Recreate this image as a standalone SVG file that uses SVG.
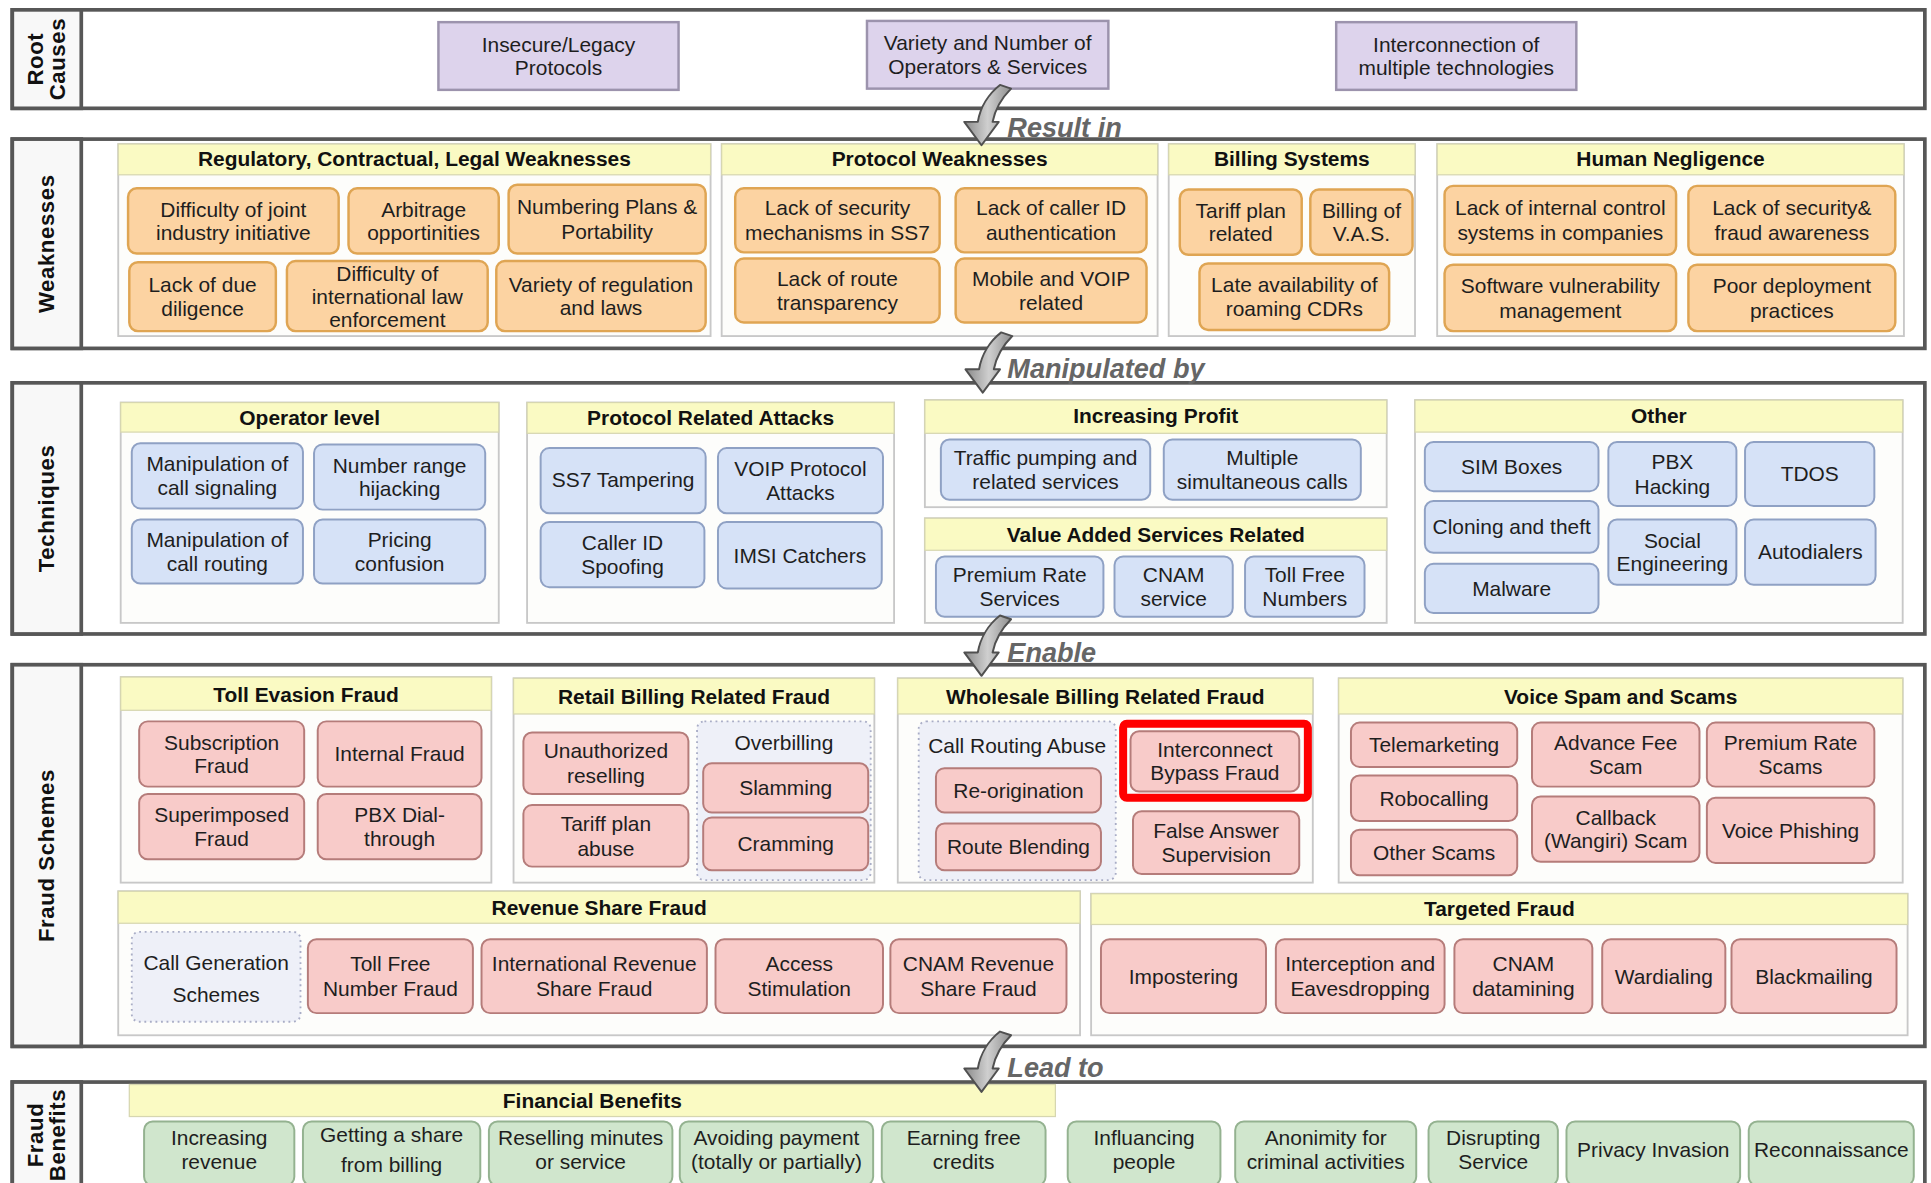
<svg xmlns="http://www.w3.org/2000/svg" width="1931" height="1183" viewBox="0 0 1931 1183">
<defs>
<style>
text{font-family:"Liberation Sans",Arial,sans-serif;fill:#1e1e1e}
.t{font-size:17px;text-anchor:middle}
.h{font-size:17px;font-weight:bold;text-anchor:middle;fill:#111}
.lt{font-size:18px;font-weight:bold;text-anchor:middle;fill:#111;letter-spacing:0.5px}
.al{font-size:22px;font-weight:bold;font-style:italic;fill:#666}
.band{fill:#fff;stroke:#575757;stroke-width:3}
.lab{fill:#f8f8f8;stroke:#575757;stroke-width:3}
.grp{fill:#fdfdfb;stroke:#c8c8c8;stroke-width:1.5}
.hdr{fill:#fafac3;stroke:#d6d6b0;stroke-width:1}
.root{fill:#ddd3ec;stroke:#9c93ad;stroke-width:2}
.ow{fill:#fcd3a2;stroke:#dfa553;stroke-width:2}
.bt{fill:#d6e2f7;stroke:#8fa1c4;stroke-width:1.6}
.fr{fill:#f8cbc9;stroke:#b57c7a;stroke-width:1.6}
.gb{fill:#d0e6cd;stroke:#94b290;stroke-width:1.6}
.dot{fill:#eef0f8;stroke:#a9adc6;stroke-width:1.5;stroke-dasharray:1.5 3}
.arr{fill:url(#ag);stroke:#505050;stroke-width:1.6;stroke-linejoin:round}
</style>
<linearGradient id="ag" x1="0" y1="0" x2="1" y2="0">
<stop offset="0" stop-color="#8a8a8a"/><stop offset="0.5" stop-color="#cfcfcf"/><stop offset="1" stop-color="#8f8f8f"/>
</linearGradient>
<path id="arrow" class="arr" d="M15,-49 L24,-46 C16,-38 11,-29 9,-19 L14,-19 L0,0 L-14,-19 L-3,-19 C-1,-31 6,-42 15,-49 Z"/>
</defs>
<rect width="1931" height="1183" fill="#fff"/>
<g transform="scale(1.23151,1.23101)">

<!-- Bands -->
<g id="band-root">
<rect class="band" x="10" y="8" width="1553" height="80"/>
<rect class="lab" x="10" y="8" width="56" height="80"/>
<text class="lt" transform="translate(38,48) rotate(-90)"><tspan x="0" y="-3">Root</tspan><tspan x="0" y="15">Causes</tspan></text>
</g>
<g id="band-weak">
<rect class="band" x="10" y="113" width="1553" height="170"/>
<rect class="lab" x="10" y="113" width="56" height="170"/>
<text class="lt" transform="translate(38,198) rotate(-90)" y="6">Weaknesses</text>
</g>
<g id="band-tech">
<rect class="band" x="10" y="311" width="1553" height="204"/>
<rect class="lab" x="10" y="311" width="56" height="204"/>
<text class="lt" transform="translate(38,413) rotate(-90)" y="6">Techniques</text>
</g>
<g id="band-fraud">
<rect class="band" x="10" y="540" width="1553" height="310"/>
<rect class="lab" x="10" y="540" width="56" height="310"/>
<text class="lt" transform="translate(38,695) rotate(-90)" y="6">Fraud Schemes</text>
</g>
<g id="band-benefit">
<rect class="band" x="10" y="879" width="1553" height="100"/>
<rect class="lab" x="10" y="879" width="56" height="100"/>
<text class="lt" transform="translate(38,922) rotate(-90)"><tspan x="0" y="-3">Fraud</tspan><tspan x="0" y="15">Benefits</tspan></text>
</g>

<!-- Root causes -->
<g id="rc1"><rect class="root" x="356" y="18" width="195" height="55"/><text class="t"><tspan x="453.5" y="42">Insecure/Legacy</tspan><tspan x="453.5" y="61">Protocols</tspan></text></g>
<g id="rc2"><rect class="root" x="704" y="17" width="196" height="55"/><text class="t"><tspan x="802" y="41">Variety and Number of</tspan><tspan x="802" y="60">Operators &amp; Services</tspan></text></g>
<g id="rc3"><rect class="root" x="1085" y="18" width="195" height="55"/><text class="t"><tspan x="1182.5" y="42">Interconnection of</tspan><tspan x="1182.5" y="61">multiple technologies</tspan></text></g>

<!-- Weakness groups -->
<g id="g-reg"><rect class="grp" x="96" y="117" width="481" height="156"/><rect class="hdr" x="96" y="117" width="481" height="25"/><text class="h" x="336.5" y="135">Regulatory, Contractual, Legal Weaknesses</text></g>
<g id="g-prot"><rect class="grp" x="586" y="117" width="354" height="156"/><rect class="hdr" x="586" y="117" width="354" height="25"/><text class="h" x="763" y="135">Protocol Weaknesses</text></g>
<g id="g-bill"><rect class="grp" x="949" y="117" width="200" height="156"/><rect class="hdr" x="949" y="117" width="200" height="25"/><text class="h" x="1049" y="135">Billing Systems</text></g>
<g id="g-human"><rect class="grp" x="1167" y="117" width="379" height="156"/><rect class="hdr" x="1167" y="117" width="379" height="25"/><text class="h" x="1356.5" y="135">Human Negligence</text></g>

<g id="w1"><rect class="ow" x="104" y="153" width="171" height="53" rx="7"/><text class="t"><tspan x="189.5" y="176">Difficulty of joint</tspan><tspan x="189.5" y="195">industry initiative</tspan></text></g>
<g id="w2"><rect class="ow" x="283" y="153" width="122" height="53" rx="7"/><text class="t"><tspan x="344" y="176">Arbitrage</tspan><tspan x="344" y="195">opportinities</tspan></text></g>
<g id="w3"><rect class="ow" x="413" y="150" width="160" height="56" rx="7"/><text class="t"><tspan x="493" y="174">Numbering Plans &amp;</tspan><tspan x="493" y="194">Portability</tspan></text></g>
<g id="w4"><rect class="ow" x="105" y="213" width="119" height="56" rx="7"/><text class="t"><tspan x="164.5" y="237">Lack of due</tspan><tspan x="164.5" y="257">diligence</tspan></text></g>
<g id="w5"><rect class="ow" x="233" y="212" width="163" height="57" rx="7"/><text class="t"><tspan x="314.5" y="228">Difficulty of</tspan><tspan x="314.5" y="247">international law</tspan><tspan x="314.5" y="266">enforcement</tspan></text></g>
<g id="w6"><rect class="ow" x="403" y="212" width="170" height="57" rx="7"/><text class="t"><tspan x="488" y="237">Variety of regulation</tspan><tspan x="488" y="256">and laws</tspan></text></g>
<g id="w7"><rect class="ow" x="597" y="153" width="166" height="52" rx="7"/><text class="t"><tspan x="680" y="175">Lack of security</tspan><tspan x="680" y="195">mechanisms in SS7</tspan></text></g>
<g id="w8"><rect class="ow" x="776" y="153" width="155" height="52" rx="7"/><text class="t"><tspan x="853.5" y="175">Lack of caller ID</tspan><tspan x="853.5" y="195">authentication</tspan></text></g>
<g id="w9"><rect class="ow" x="597" y="210" width="166" height="52" rx="7"/><text class="t"><tspan x="680" y="232">Lack of route</tspan><tspan x="680" y="252">transparency</tspan></text></g>
<g id="w10"><rect class="ow" x="776" y="210" width="155" height="52" rx="7"/><text class="t"><tspan x="853.5" y="232">Mobile and VOIP</tspan><tspan x="853.5" y="252">related</tspan></text></g>
<g id="w11"><rect class="ow" x="958" y="154" width="99" height="53" rx="7"/><text class="t"><tspan x="1007.5" y="177">Tariff plan</tspan><tspan x="1007.5" y="196">related</tspan></text></g>
<g id="w12"><rect class="ow" x="1064" y="154" width="83" height="53" rx="7"/><text class="t"><tspan x="1105.5" y="177">Billing of</tspan><tspan x="1105.5" y="196">V.A.S.</tspan></text></g>
<g id="w13"><rect class="ow" x="974" y="214" width="154" height="54" rx="7"/><text class="t"><tspan x="1051" y="237">Late availability of</tspan><tspan x="1051" y="257">roaming CDRs</tspan></text></g>
<g id="w14"><rect class="ow" x="1173" y="151" width="188" height="56" rx="7"/><text class="t"><tspan x="1267" y="175">Lack of internal control</tspan><tspan x="1267" y="195">systems in companies</tspan></text></g>
<g id="w15"><rect class="ow" x="1371" y="151" width="168" height="56" rx="7"/><text class="t"><tspan x="1455" y="175">Lack of security&amp;</tspan><tspan x="1455" y="195">fraud awareness</tspan></text></g>
<g id="w16"><rect class="ow" x="1173" y="215" width="188" height="54" rx="7"/><text class="t"><tspan x="1267" y="238">Software vulnerability</tspan><tspan x="1267" y="258">management</tspan></text></g>
<g id="w17"><rect class="ow" x="1371" y="215" width="168" height="54" rx="7"/><text class="t"><tspan x="1455" y="238">Poor deployment</tspan><tspan x="1455" y="258">practices</tspan></text></g>

<!-- Technique groups -->
<g id="g-oper"><rect class="grp" x="98" y="327" width="307" height="179"/><rect class="hdr" x="98" y="327" width="307" height="24"/><text class="h" x="251.5" y="345">Operator level</text></g>
<g id="g-pra"><rect class="grp" x="428" y="327" width="298" height="179"/><rect class="hdr" x="428" y="327" width="298" height="25"/><text class="h" x="577" y="345">Protocol Related Attacks</text></g>
<g id="g-inc"><rect class="grp" x="751" y="325" width="375" height="87"/><rect class="hdr" x="751" y="325" width="375" height="27"/><text class="h" x="938.5" y="344">Increasing Profit</text></g>
<g id="g-vas"><rect class="grp" x="751" y="421" width="375" height="85"/><rect class="hdr" x="751" y="421" width="375" height="26"/><text class="h" x="938.5" y="440">Value Added Services Related</text></g>
<g id="g-other"><rect class="grp" x="1149" y="325" width="396" height="181"/><rect class="hdr" x="1149" y="325" width="396" height="26"/><text class="h" x="1347" y="344">Other</text></g>

<g id="t1"><rect class="bt" x="107" y="360" width="139" height="53" rx="7"/><text class="t"><tspan x="176.5" y="383">Manipulation of</tspan><tspan x="176.5" y="402">call signaling</tspan></text></g>
<g id="t2"><rect class="bt" x="255" y="361" width="139" height="53" rx="7"/><text class="t"><tspan x="324.5" y="384">Number range</tspan><tspan x="324.5" y="403">hijacking</tspan></text></g>
<g id="t3"><rect class="bt" x="107" y="422" width="139" height="52" rx="7"/><text class="t"><tspan x="176.5" y="444">Manipulation of</tspan><tspan x="176.5" y="464">call routing</tspan></text></g>
<g id="t4"><rect class="bt" x="255" y="422" width="139" height="52" rx="7"/><text class="t"><tspan x="324.5" y="444">Pricing</tspan><tspan x="324.5" y="464">confusion</tspan></text></g>
<g id="t5"><rect class="bt" x="439" y="364" width="134" height="53" rx="7"/><text class="t" x="506" y="396">SS7 Tampering</text></g>
<g id="t6"><rect class="bt" x="583" y="364" width="134" height="53" rx="7"/><text class="t"><tspan x="650" y="387">VOIP Protocol</tspan><tspan x="650" y="406">Attacks</tspan></text></g>
<g id="t7"><rect class="bt" x="439" y="424" width="133" height="53" rx="7"/><text class="t"><tspan x="505.5" y="447">Caller ID</tspan><tspan x="505.5" y="466">Spoofing</tspan></text></g>
<g id="t8"><rect class="bt" x="583" y="424" width="133" height="54" rx="7"/><text class="t" x="649.5" y="457">IMSI Catchers</text></g>
<g id="t9"><rect class="bt" x="764" y="357" width="170" height="49" rx="7"/><text class="t"><tspan x="849" y="378">Traffic pumping and</tspan><tspan x="849" y="397">related services</tspan></text></g>
<g id="t10"><rect class="bt" x="945" y="357" width="160" height="49" rx="7"/><text class="t"><tspan x="1025" y="378">Multiple</tspan><tspan x="1025" y="397">simultaneous calls</tspan></text></g>
<g id="t11"><rect class="bt" x="760" y="452" width="136" height="49" rx="7"/><text class="t"><tspan x="828" y="473">Premium Rate</tspan><tspan x="828" y="492">Services</tspan></text></g>
<g id="t12"><rect class="bt" x="905" y="452" width="96" height="49" rx="7"/><text class="t"><tspan x="953" y="473">CNAM</tspan><tspan x="953" y="492">service</tspan></text></g>
<g id="t13"><rect class="bt" x="1011" y="452" width="97" height="49" rx="7"/><text class="t"><tspan x="1059.5" y="473">Toll Free</tspan><tspan x="1059.5" y="492">Numbers</tspan></text></g>
<g id="t14"><rect class="bt" x="1157" y="359" width="141" height="40" rx="7"/><text class="t" x="1227.5" y="385">SIM Boxes</text></g>
<g id="t15"><rect class="bt" x="1306" y="359" width="104" height="52" rx="7"/><text class="t"><tspan x="1358" y="381">PBX</tspan><tspan x="1358" y="401">Hacking</tspan></text></g>
<g id="t16"><rect class="bt" x="1417" y="359" width="105" height="52" rx="7"/><text class="t" x="1469.5" y="391">TDOS</text></g>
<g id="t17"><rect class="bt" x="1157" y="407" width="141" height="42" rx="7"/><text class="t" x="1227.5" y="434">Cloning and theft</text></g>
<g id="t18"><rect class="bt" x="1306" y="422" width="104" height="53" rx="7"/><text class="t"><tspan x="1358" y="445">Social</tspan><tspan x="1358" y="464">Engineering</tspan></text></g>
<g id="t19"><rect class="bt" x="1417" y="422" width="106" height="53" rx="7"/><text class="t" x="1470" y="454">Autodialers</text></g>
<g id="t20"><rect class="bt" x="1157" y="458" width="141" height="40" rx="7"/><text class="t" x="1227.5" y="484">Malware</text></g>

<!-- Fraud scheme groups -->
<g id="g-toll"><rect class="grp" x="98" y="550" width="301" height="167"/><rect class="hdr" x="98" y="550" width="301" height="27"/><text class="h" x="248.5" y="570">Toll Evasion Fraud</text></g>
<g id="g-retail"><rect class="grp" x="417" y="551" width="293" height="166"/><rect class="hdr" x="417" y="551" width="293" height="29"/><text class="h" x="563.5" y="572">Retail Billing Related Fraud</text></g>
<g id="g-whole"><rect class="grp" x="729" y="551" width="337" height="166"/><rect class="hdr" x="729" y="551" width="337" height="29"/><text class="h" x="897.5" y="572">Wholesale Billing Related Fraud</text></g>
<g id="g-voice"><rect class="grp" x="1087" y="551" width="458" height="166"/><rect class="hdr" x="1087" y="551" width="458" height="29"/><text class="h" x="1316" y="572">Voice Spam and Scams</text></g>
<g id="g-rev"><rect class="grp" x="96" y="724" width="781" height="117"/><rect class="hdr" x="96" y="724" width="781" height="26"/><text class="h" x="486.5" y="743">Revenue Share Fraud</text></g>
<g id="g-target"><rect class="grp" x="886" y="726" width="663" height="115"/><rect class="hdr" x="886" y="726" width="663" height="25"/><text class="h" x="1217.5" y="744">Targeted Fraud</text></g>

<g id="f1"><rect class="fr" x="113" y="586" width="134" height="53" rx="7"/><text class="t"><tspan x="180" y="609">Subscription</tspan><tspan x="180" y="628">Fraud</tspan></text></g>
<g id="f2"><rect class="fr" x="258" y="586" width="133" height="53" rx="7"/><text class="t" x="324.5" y="618.5">Internal Fraud</text></g>
<g id="f3"><rect class="fr" x="113" y="645" width="134" height="53" rx="7"/><text class="t"><tspan x="180" y="668">Superimposed</tspan><tspan x="180" y="687">Fraud</tspan></text></g>
<g id="f4"><rect class="fr" x="258" y="645" width="133" height="53" rx="7"/><text class="t"><tspan x="324.5" y="668">PBX Dial-</tspan><tspan x="324.5" y="687">through</tspan></text></g>
<g id="f5"><rect class="fr" x="425" y="595" width="134" height="50" rx="7"/><text class="t"><tspan x="492" y="616">Unauthorized</tspan><tspan x="492" y="636">reselling</tspan></text></g>
<g id="f6"><rect class="fr" x="425" y="654" width="134" height="50" rx="7"/><text class="t"><tspan x="492" y="675">Tariff plan</tspan><tspan x="492" y="695">abuse</tspan></text></g>
<g id="d-overbilling"><rect class="dot" x="566" y="586" width="141" height="129" rx="6"/><text class="t" x="636.5" y="609">Overbilling</text></g>
<g id="f7"><rect class="fr" x="571" y="620" width="134" height="40" rx="7"/><text class="t" x="638" y="646">Slamming</text></g>
<g id="f8"><rect class="fr" x="571" y="664" width="134" height="43" rx="7"/><text class="t" x="638" y="691.5">Cramming</text></g>
<g id="d-cra"><rect class="dot" x="746" y="586" width="160" height="129" rx="6"/><text class="t" x="826" y="612">Call Routing Abuse</text></g>
<g id="f9"><rect class="fr" x="760" y="624" width="134" height="36" rx="7"/><text class="t" x="827" y="648">Re-origination</text></g>
<g id="f10"><rect class="fr" x="760" y="669" width="134" height="38" rx="7"/><text class="t" x="827" y="694">Route Blending</text></g>
<g id="f11"><rect class="fr" x="918" y="594" width="137" height="49" rx="7"/><text class="t"><tspan x="986.5" y="615">Interconnect</tspan><tspan x="986.5" y="634">Bypass Fraud</tspan></text>
<rect x="912" y="588" width="150" height="60" rx="3" fill="none" stroke="#f00" stroke-width="6.5"/></g>
<g id="f12"><rect class="fr" x="920" y="659" width="135" height="51" rx="7"/><text class="t"><tspan x="987.5" y="681">False Answer</tspan><tspan x="987.5" y="700">Supervision</tspan></text></g>
<g id="f13"><rect class="fr" x="1097" y="587" width="135" height="36" rx="7"/><text class="t" x="1164.5" y="611">Telemarketing</text></g>
<g id="f14"><rect class="fr" x="1097" y="630" width="135" height="37" rx="7"/><text class="t" x="1164.5" y="654.5">Robocalling</text></g>
<g id="f15"><rect class="fr" x="1097" y="674" width="135" height="37" rx="7"/><text class="t" x="1164.5" y="698.5">Other Scams</text></g>
<g id="f16"><rect class="fr" x="1244" y="587" width="136" height="52" rx="7"/><text class="t"><tspan x="1312" y="609">Advance Fee</tspan><tspan x="1312" y="629">Scam</tspan></text></g>
<g id="f17"><rect class="fr" x="1386" y="587" width="136" height="52" rx="7"/><text class="t"><tspan x="1454" y="609">Premium Rate</tspan><tspan x="1454" y="629">Scams</tspan></text></g>
<g id="f18"><rect class="fr" x="1244" y="647" width="136" height="53" rx="7"/><text class="t"><tspan x="1312" y="670">Callback</tspan><tspan x="1312" y="689">(Wangiri) Scam</tspan></text></g>
<g id="f19"><rect class="fr" x="1386" y="648" width="136" height="53" rx="7"/><text class="t" x="1454" y="680.5">Voice Phishing</text></g>
<g id="d-callgen"><rect class="dot" x="107" y="757" width="137" height="73" rx="6"/><text class="t"><tspan x="175.5" y="788">Call Generation</tspan><tspan x="175.5" y="814">Schemes</tspan></text></g>
<g id="f20"><rect class="fr" x="250" y="763" width="134" height="60" rx="7"/><text class="t"><tspan x="317" y="789">Toll Free</tspan><tspan x="317" y="809">Number Fraud</tspan></text></g>
<g id="f21"><rect class="fr" x="391" y="763" width="183" height="60" rx="7"/><text class="t"><tspan x="482.5" y="789">International Revenue</tspan><tspan x="482.5" y="809">Share Fraud</tspan></text></g>
<g id="f22"><rect class="fr" x="581" y="763" width="136" height="60" rx="7"/><text class="t"><tspan x="649" y="789">Access</tspan><tspan x="649" y="809">Stimulation</tspan></text></g>
<g id="f23"><rect class="fr" x="723" y="763" width="143" height="60" rx="7"/><text class="t"><tspan x="794.5" y="789">CNAM Revenue</tspan><tspan x="794.5" y="809">Share Fraud</tspan></text></g>
<g id="f24"><rect class="fr" x="894" y="763" width="134" height="60" rx="7"/><text class="t" x="961" y="799">Impostering</text></g>
<g id="f25"><rect class="fr" x="1036" y="763" width="137" height="60" rx="7"/><text class="t"><tspan x="1104.5" y="789">Interception and</tspan><tspan x="1104.5" y="809">Eavesdropping</tspan></text></g>
<g id="f26"><rect class="fr" x="1181" y="763" width="112" height="60" rx="7"/><text class="t"><tspan x="1237" y="789">CNAM</tspan><tspan x="1237" y="809">datamining</tspan></text></g>
<g id="f27"><rect class="fr" x="1301" y="763" width="100" height="60" rx="7"/><text class="t" x="1351" y="799">Wardialing</text></g>
<g id="f28"><rect class="fr" x="1406" y="763" width="134" height="60" rx="7"/><text class="t" x="1473" y="799">Blackmailing</text></g>

<!-- Benefits -->
<g id="g-fin"><rect class="hdr" x="105" y="881" width="752" height="26"/><text class="h" x="481" y="900">Financial Benefits</text></g>
<g id="b1"><rect class="gb" x="117" y="911" width="122" height="52" rx="7"/><text class="t"><tspan x="178" y="930">Increasing</tspan><tspan x="178" y="950">revenue</tspan></text></g>
<g id="b2"><rect class="gb" x="246" y="911" width="144" height="52" rx="7"/><text class="t"><tspan x="318" y="928">Getting a share</tspan><tspan x="318" y="952">from billing</tspan></text></g>
<g id="b3"><rect class="gb" x="397" y="911" width="149" height="52" rx="7"/><text class="t"><tspan x="471.5" y="930">Reselling minutes</tspan><tspan x="471.5" y="950">or service</tspan></text></g>
<g id="b4"><rect class="gb" x="552" y="911" width="157" height="52" rx="7"/><text class="t"><tspan x="630.5" y="930">Avoiding payment</tspan><tspan x="630.5" y="950">(totally or partially)</tspan></text></g>
<g id="b5"><rect class="gb" x="716" y="911" width="133" height="52" rx="7"/><text class="t"><tspan x="782.5" y="930">Earning free</tspan><tspan x="782.5" y="950">credits</tspan></text></g>
<g id="b6"><rect class="gb" x="867" y="911" width="124" height="52" rx="7"/><text class="t"><tspan x="929" y="930">Influancing</tspan><tspan x="929" y="950">people</tspan></text></g>
<g id="b7"><rect class="gb" x="1003" y="911" width="147" height="52" rx="7"/><text class="t"><tspan x="1076.5" y="930">Anonimity for</tspan><tspan x="1076.5" y="950">criminal activities</tspan></text></g>
<g id="b8"><rect class="gb" x="1160" y="911" width="105" height="52" rx="7"/><text class="t"><tspan x="1212.5" y="930">Disrupting</tspan><tspan x="1212.5" y="950">Service</tspan></text></g>
<g id="b9"><rect class="gb" x="1272" y="911" width="141" height="52" rx="7"/><text class="t" x="1342.5" y="940">Privacy Invasion</text></g>
<g id="b10"><rect class="gb" x="1420" y="911" width="134" height="52" rx="7"/><text class="t" x="1487" y="940">Reconnaissance</text></g>

<!-- Connectors -->
<g id="connectors">
<use href="#arrow" transform="translate(797,118)"/>
<text class="al" x="818" y="111">Result in</text>
<use href="#arrow" transform="translate(798,319)"/>
<text class="al" x="818" y="307">Manipulated by</text>
<use href="#arrow" transform="translate(797,549)"/>
<text class="al" x="818" y="538">Enable</text>
<use href="#arrow" transform="translate(797,887)"/>
<text class="al" x="818" y="875">Lead to</text>
</g>
</g>
</svg>
